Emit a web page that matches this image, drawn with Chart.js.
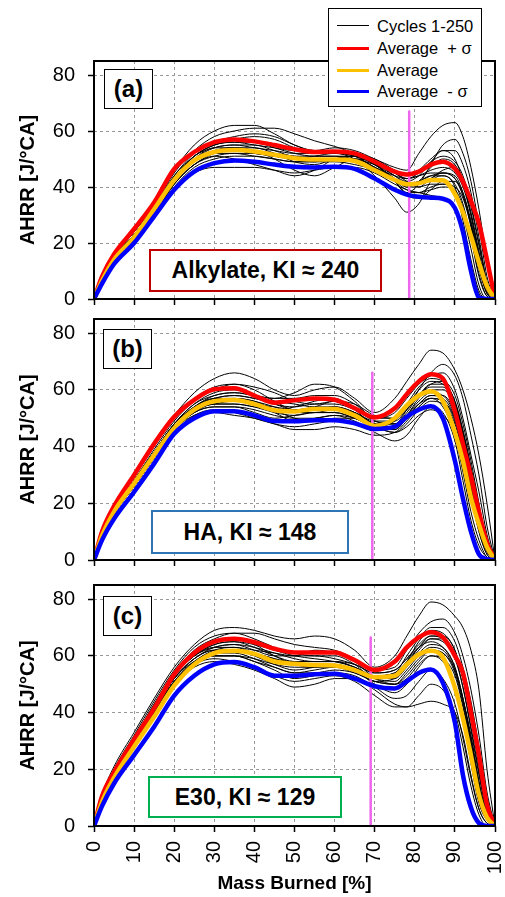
<!DOCTYPE html>
<html>
<head>
<meta charset="utf-8">
<script src="https://cdn.jsdelivr.net/npm/chart.js@4.4.1/dist/chart.umd.min.js"></script>
<style>
body{margin:0;background:#fff;font-family:Arial,"Liberation Sans",sans-serif;}
#wrap{position:relative;width:505px;height:897px;overflow:hidden;background:#fff;}
canvas{position:absolute;left:0;}
.tag{position:absolute;background:#fff;border:1.5px solid #000;box-sizing:border-box;font-weight:bold;font-size:24px;display:flex;align-items:center;justify-content:center;}
.note{position:absolute;background:#fff;border:2px solid #000;box-sizing:border-box;font-weight:bold;font-size:23px;display:flex;align-items:center;justify-content:center;white-space:nowrap;}
#legend{position:absolute;left:328px;top:8px;width:154px;height:99px;border:1.5px solid #000;background:#fff;box-sizing:border-box;z-index:5;}
#legend .row{position:absolute;left:0;height:20px;line-height:20px;font-size:16.5px;white-space:nowrap;}
#legend .ln{position:absolute;left:8px;width:32px;top:10px;}
#legend .tx{position:absolute;left:48px;top:0;}
</style>
</head>
<body>
<div id="wrap">
  <canvas id="chartA" width="505" height="310" style="top:0"></canvas>
  <canvas id="chartB" width="505" height="260" style="top:310px"></canvas>
  <canvas id="chartC" width="505" height="327" style="top:570px"></canvas>

  <div id="legend">
    <div class="row" style="top:7px"><span class="ln" style="border-top:1.5px solid #000;margin-top:-1px"></span><span class="tx">Cycles 1-250</span></div>
    <div class="row" style="top:29px"><span class="ln" style="border-top:3px solid #ff0000;margin-top:-1.5px"></span><span class="tx">Average&nbsp; + σ</span></div>
    <div class="row" style="top:51px"><span class="ln" style="border-top:3px solid #ffc000;margin-top:-1.5px"></span><span class="tx">Average</span></div>
    <div class="row" style="top:72px"><span class="ln" style="border-top:3px solid #0000ff;margin-top:-1.5px"></span><span class="tx">Average&nbsp; - σ</span></div>
  </div>

  <div class="tag" style="left:104px;top:69px;width:49px;height:40px">(a)</div>
  <div class="tag" style="left:103px;top:329px;width:49px;height:40px">(b)</div>
  <div class="tag" style="left:103px;top:596px;width:49px;height:40px">(c)</div>

  <div class="note" style="left:149px;top:249px;width:233px;height:43px;border-color:#c00000">Alkylate, KI ≈ 240</div>
  <div class="note" style="left:151px;top:510px;width:198px;height:44px;border-color:#2e75b6">HA, KI ≈ 148</div>
  <div class="note" style="left:148px;top:776px;width:194px;height:42px;border-color:#00b050">E30, KI ≈ 129</div>
</div>

<script>
// mass burned [%] sample points (shared by every curve)
var massBurned = [0,2,5,10,15,20,25,30,35,40,45,50,55,60,65,70,75,78,81,84,87,90,92,94,96,98,100];

// (a) Alkylate
var redA  = [0,8,16,25,34.5,46.5,52.5,56,57,56.3,55,53.5,52.5,52.7,52,49,45.5,44.5,45.5,48,49,46.5,42,35,27,14,0];
var avgA  = [0,6.5,14,22,32,42.5,49.5,52.5,53.2,52.7,51.5,50.3,49.8,49.8,49.3,46,42.5,41,41.3,42.5,42.4,37.5,31,22.5,13,4.5,0];
var blueA = [0,5.5,12.5,20,29.5,39,45.5,48.5,49.5,49,48,47.2,47,47.2,46.5,43,39,37.3,36.5,36.2,35.8,32.5,24,10,0.5,0,0];
var cyclesA = [
  [0,7,15,24,34,46,55,60,62,62,59,55,53,53,52,50,46,44,46,50,53,50,42,30,16,4,0],
  [0,7,14,23,32,44,51,55,56,55,54,53,53,54,53,50,47,46,52,58,62,63,58,47,32,14,0],
  [0,6,13,21,30,41,48,52,53,52,51,50,51,52,50,44,36,31,34,42,44,40,28,14,3,0,0],
  [0,5,12,20,29,39,45,47,47,47,46,45,46,47,47,45,41,39,38,37,36,33,25,12,2,0,0],
  [0,6,13,22,31,42,50,54,54,53,50,46,44,47,50,49,45,42,40,43,45,44,38,27,12,2,0],
  [0,7,15,24,33,45,53,58,60,61,61,59,56.5,54.5,52,49,45,43,45,49,51,49,44,34,20,6,0],
  [0,6,13,22,30,40,47,50,51,51,50,49,49,50,49,47,43,41,42,44,44,41,34,22,8,1,0],
  [0,6,14,23,32,43,50,53,54,54,52,49,48,50,51,48,42,37,36,39,42,42,37,26,11,2,0],
  [0,7,15,24,33,44,52,56,58,59,58,55,53,53,52,49,44,42,44,49,53,53,48,38,22,6,0],
  [0,6,13,21,30,41,48,51,50,48,46,44,46,50,51,48,43,40,40,41,41,38,30,18,5,0,0],
  [0,6,14,23,32,43,51,55,57,58,57,54,52,52,51,47,42,38,41,48,55,57,52,42,26,8,0],
  [0,6,13,22,31,42,49,52,53,52,51,50,50,50,49,47,44,43,44,46,47,45,40,30,15,3,0],
  [0,6,14,23,32,43,50,53,54,53,52,51,50,50,50,47,43,41,42,44,45,43,37,27,14,3,0],
  [0,7,14,23,32,43,51,55,56,56,54,52,51,51,51,48,44,41,41,43,46,47,43,33,19,5,0],
  [0,6,13,22,31,41,48,51,52,52,51,50,49,49,48,46,42,39,38,39,40,39,33,22,9,1,0],
  [0,7,15,23,32,43,51,54,55,54,53,52,52,52,51,48,43,40,42,47,50,48,42,31,17,4,0],
  [0,6,13,22,31,42,49,52,52,51,50,49,49,50,50,47,42,38,38,40,41,40,36,26,12,2,0],
  [0,7,14,23,32,43,50,54,55,55,53,51,51,51,50,48,45,43,44,45,45,43,38,28,15,3,0]
];

// (b) HA
var redB  = [0,10,19,30,41,50.5,56.5,60.2,60.6,58,55.5,56.3,57,56.5,53.5,50.3,53.5,58.5,63,65.5,64,52.5,41,29.5,17,6,0];
var avgB  = [0,8.5,17,27,37,46.5,53,56,56.4,55,52.8,52.4,53.3,53.3,51,47.3,50,54.5,58,59.5,56,45,35,22,12.5,4.5,0];
var blueB = [0,7,14.5,24,34,44.5,50,52.5,52.5,51,49,48.9,49.3,49.3,48.2,46.2,47,50.5,53,54.2,50,35,21.7,10,2,0.3,0];
var cyclesB = [
  [0,9,19,30,41,51,59,64,66,64,60,58,60,61,57,52,57,63,69,74,73,67,60,50,37,20,0],
  [0,8,17,28,38,48,54,58,59,58,57,59,62,61,56,50,52,57,62,65,66,60,50,37,24,9,0],
  [0,7,15,25,35,45,51,53,52,50,48,47,48,49,48,45,42,44,50,54,52,42,28,14,5,1,0],
  [0,8,17,27,37,47,53,55,56,55,52,49,50,51,49,46,46,50,55,58,57,50,38,24,12,3,0],
  [0,7,16,26,36,46,52,54,54,52,50,51,52,52,50,47,49,54,60,63,62,55,44,30,16,5,0],
  [0,8,18,29,40,50,57,61,62,60,56,53,54,56,54,49,48,51,55,57,54,44,31,17,7,1,0],
  [0,7,16,26,36,46,52,55,55,54,53,54,56,57,53,48,48,53,60,66,69,65,57,44,30,12,0],
  [0,8,17,27,37,47,53,56,57,56,53,50,49,50,50,47,45,47,51,53,51,45,35,22,10,2,0],
  [0,8,17,28,39,49,56,60,62,61,59,56,55,56,55,51,50,53,58,62,63,58,48,35,20,6,0],
  [0,7,16,26,36,46,51,52,51,50,48,46,46,47,46,44,45,49,54,57,56,50,40,26,12,3,0],
  [0,8,17,28,38,48,55,58,59,58,57,57,58,58,55,50,50,55,61,64,63,56,45,32,18,5,0],
  [0,7,16,27,37,47,53,56,56,55,54,53,53,54,52,48,47,51,57,60,60,54,43,29,14,4,0],
  [0,8,17,27,37,47,54,57,58,57,55,53,53,54,52,48,47,51,56,59,58,51,40,27,13,3,0],
  [0,8,17,27,37,47,53,55,55,54,52,51,52,52,50,47,46,50,55,58,58,52,42,29,15,4,0],
  [0,8,17,28,38,48,55,59,60,58,55,54,55,55,53,49,48,52,58,62,62,56,46,33,19,6,0],
  [0,7,16,26,36,46,52,54,54,53,51,50,50,51,50,47,45,48,53,56,55,48,37,23,10,2,0],
  [0,8,17,27,37,47,54,57,57,56,54,52,52,53,52,49,49,53,58,61,61,55,45,32,17,5,0],
  [0,8,17,28,38,48,54,57,58,57,56,55,54,54,52,48,47,50,54,57,56,49,38,25,11,3,0]
];

// (c) E30
var redC  = [0,10.5,19,30.5,41.5,53.5,61,65,66,64.8,62.5,61.2,61.2,61.2,58.5,55,58,63,66.5,68.3,66.5,60,54,40,25,7.5,0];
var avgC  = [0,8.5,17,28,38.5,49.5,57,61,61.8,60.7,58,57.2,56.8,56.6,55,52.5,53,57,60.5,61.8,59.5,48.8,38,25,11,3,0];
var blueC = [0,7,15,25,35,46,53,57,57.8,56,53,53,53.5,53.7,52,49.3,48.5,51,54,55.2,50.5,36.5,18,6.5,1,0,0];
var cyclesC = [
  [0,11,21,33,45,56,64,69,70,69,67,66,67,66,62,56,60,67,74,79,78,74,70,62,48,20,0],
  [0,10,19,30,42,53,60,63,64,62,60,60,62,61,58,53,54,60,66,70,70,65,56,44,28,10,0],
  [0,9,18,29,40,51,57,59,58,56,53,51,52,53,51,46,42,42,43,44,43,40,32,18,6,1,0],
  [0,10,20,31,43,54,61,65,66,64,60,57,56,57,55,50,47,50,56,60,58,50,38,22,8,2,0],
  [0,9,18,30,41,52,59,62,62,60,57,55,56,57,55,51,52,57,63,67,66,60,49,34,18,5,0],
  [0,10,19,31,43,54,62,66,68,68,66,64,63,62,59,55,56,62,68,72,73,68,60,48,32,12,0],
  [0,9,17,28,39,50,56,58,57,55,52,49,50,52,52,48,43,42,46,50,48,40,28,14,4,0,0],
  [0,10,19,30,42,53,60,63,63,62,61,60,60,59,57,54,55,59,63,65,63,56,45,30,14,3,0],
  [0,9,18,29,40,51,58,61,61,59,56,54,54,55,54,51,50,53,58,62,61,55,45,32,16,4,0],
  [0,10,20,32,44,55,63,67,68,66,63,61,60,60,57,52,53,58,65,69,68,62,52,38,22,7,0],
  [0,9,18,29,41,52,58,60,60,58,55,52,53,54,53,49,45,46,51,55,52,43,31,17,6,1,0],
  [0,10,19,31,42,53,60,64,65,63,60,58,58,58,56,53,53,57,62,66,66,61,52,40,24,8,0],
  [0,9,18,29,40,51,58,62,63,61,59,57,57,57,55,52,52,56,61,64,63,56,45,31,15,4,0],
  [0,9,18,29,40,51,57,60,60,59,57,56,56,56,54,51,50,54,59,62,61,54,43,29,13,3,0],
  [0,10,19,30,42,53,60,64,65,64,62,60,59,58,56,53,54,58,63,66,65,59,49,35,19,5,0],
  [0,9,18,29,40,51,57,60,60,58,56,54,55,56,55,52,51,55,60,63,62,55,44,30,14,3,0],
  [0,9,18,30,41,52,59,62,62,61,59,58,58,58,56,52,50,52,57,60,59,53,42,28,12,3,0],
  [0,10,19,30,41,52,59,63,64,63,61,59,58,58,57,54,55,59,64,67,67,62,52,38,21,6,0]
];

// knock onset marker (magenta line): position and height per panel
var knockX   = [78.6, 69.4, 69.0];
var knockTop = [67, 66, 66.5];

Chart.defaults.font.family = 'Arial, "Liberation Sans", sans-serif';
Chart.defaults.color = '#000';

var framePlugin = {
  id: 'frame',
  afterDraw: function(chart) {
    var a = chart.chartArea, c = chart.ctx;
    c.save();
    c.strokeStyle = '#000';
    c.lineWidth = 2;
    c.strokeRect(a.left, a.top, a.right - a.left, a.bottom - a.top);
    c.restore();
  }
};

function makePanel(id, red, avg, blue, cycles, kx, ktop, pad) {
  var sets = [];
  sets.push({label:'Average - σ', data:blue, borderColor:'#0000ff', borderWidth:4.5});
  sets.push({label:'Average', data:avg, borderColor:'#ffc000', borderWidth:4.5});
  sets.push({label:'Average + σ', data:red, borderColor:'#ff0000', borderWidth:4.5});
  sets.push({label:'knock', data:[{x:kx, y:0}, {x:kx, y:ktop}], borderColor:'#ee66ee', borderWidth:2.5,
             cubicInterpolationMode:'default', tension:0});
  for (var i = 0; i < cycles.length; i++) {
    sets.push({label:'Cycle', data:cycles[i], borderColor:'#000', borderWidth:1});
  }

  return new Chart(document.getElementById(id), {
    type: 'line',
    data: { labels: massBurned, datasets: sets },
    plugins: [framePlugin],
    options: {
      responsive: false,
      animation: false,
      layout: { padding: { top: pad.top, bottom: pad.bottom, left: 0, right: 10 } },
      plugins: { legend: { display: false }, tooltip: { enabled: false } },
      elements: {
        point: { radius: 0 },
        line: { cubicInterpolationMode: 'monotone', borderCapStyle: 'round', borderJoinStyle: 'round' }
      },
      scales: {
        x: {
          type: 'linear', min: 0, max: 100,
          ticks: { stepSize: 10, includeBounds: false, display: pad.showX, autoSkip: false,
                   minRotation: 90, maxRotation: 90, padding: 9, color: '#000', font: { size: 20 } },
          grid: { color: '#999', lineWidth: 1, tickColor: '#000', tickLength: 6, tickWidth: 1.5 },
          border: { display: false, dash: [3, 3] },
          title: { display: pad.showX, text: 'Mass Burned [%]', color: '#000',
                   font: { size: 19, weight: 'bold' }, padding: { top: 0, bottom: 2 } },
          afterFit: function(s) { s.height = pad.xh; s.paddingLeft = 0; s.paddingRight = 0; }
        },
        y: {
          min: 0, max: 85,
          ticks: { stepSize: 20, includeBounds: false, padding: 13, color: '#000', font: { size: 20 } },
          grid: { color: '#999', lineWidth: 1, tickColor: '#000', tickLength: 6, tickWidth: 1.5 },
          border: { display: false, dash: [3, 3] },
          title: { display: true, text: 'AHRR [J/°CA]', color: '#000',
                   font: { size: 20, weight: 'bold' }, padding: { top: 16, bottom: 0 } },
          afterFit: function(s) { s.width = 94; s.paddingTop = 0; s.paddingBottom = 0; }
        }
      }
    }
  });
}

var chartA = makePanel('chartA', redA, avgA, blueA, cyclesA, knockX[0], knockTop[0], {top:61, bottom:3, xh:8, showX:false});
var chartB = makePanel('chartB', redB, avgB, blueB, cyclesB, knockX[1], knockTop[1], {top:9, bottom:2, xh:8, showX:false});
var chartC = makePanel('chartC', redC, avgC, blueC, cyclesC, knockX[2], knockTop[2], {top:15, bottom:0, xh:71, showX:true});
</script>
</body>
</html>
